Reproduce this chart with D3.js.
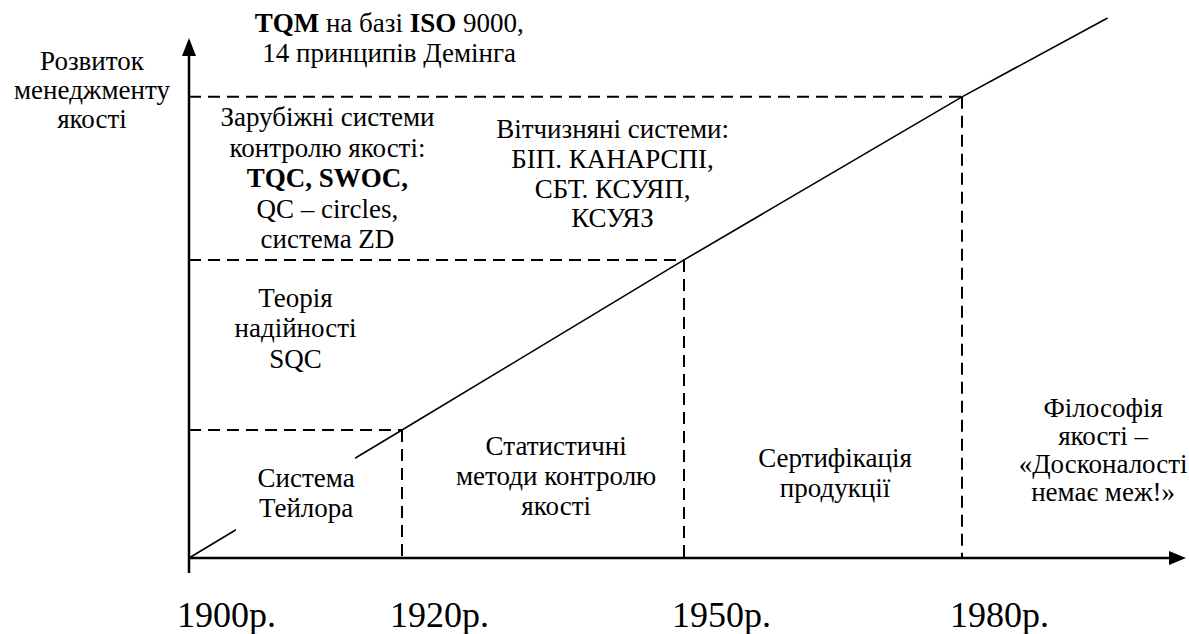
<!DOCTYPE html>
<html>
<head>
<meta charset="utf-8">
<script src="https://d3js.org/d3.v7.min.js"></script>
</head>
<body style="margin:0">
<script>
var width = 1189,
    height = 634,
    font = "Liberation Serif";

// boundaries between stages of quality management
var years = [1900, 1920, 1950, 1980];
var yearLabels = ["1900р.", "1920р.", "1950р.", "1980р."];
var levels = [0, 23.7, 55.2, 85.4];
var trendEnd = [1993, 100];

var axisTitle = ["Розвиток", "менеджменту", "якості"];
var periodLabels = [
  ["Система", "Тейлора"],
  ["Статистичні", "методи контролю", "якості"],
  ["Сертифікація", "продукції"],
  ["Філософія", "якості –", "«Досконалості", "немає меж!»"]
];
var stageLabels = [
  ["Теорія", "надійності", "SQC"],
  ["Зарубіжні системи", "контролю якості:", "**TQC, SWOC,**", "QC – circles,", "система ZD"],
  ["**TQM** на базі **ISO** 9000,", "14 принципів Демінга"]
];
var domesticLabel = ["Вітчизняні системи:", "БІП. КАНАРСПІ,", "СБТ. КСУЯП,", "КСУЯЗ"];

var x = d3.scaleLinear()
    .domain([1900, 1920, 1950, 1980, 2000])
    .range([189, 402, 684, 962, 1186]);

var y = d3.scaleLinear()
    .domain([0, 100])
    .range([558, 18]);

// development level along the diagonal, piecewise through the stage corners
var trend = d3.scaleLinear()
    .domain(years.concat(trendEnd[0]))
    .range(levels.concat(trendEnd[1]));

var svg = d3.select("body").append("svg")
    .attr("width", width)
    .attr("height", height);

// dashed guides from each corner to the axes
var corners = years.slice(1).map(function(d, i) { return [d, levels[i + 1]]; });

svg.selectAll(".hguide")
    .data(corners)
    .enter().append("line")
    .attr("x1", x(1900))
    .attr("x2", function(d) { return x(d[0]); })
    .attr("y1", function(d) { return y(d[1]); })
    .attr("y2", function(d) { return y(d[1]); });

svg.selectAll(".vguide")
    .data(corners)
    .enter().append("line")
    .attr("x1", function(d) { return x(d[0]); })
    .attr("x2", function(d) { return x(d[0]); })
    .attr("y1", function(d) { return y(d[1]); })
    .attr("y2", y(0));

svg.selectAll("line")
    .attr("stroke", "#000")
    .attr("stroke-width", 2)
    .attr("stroke-dasharray", "12,7");

// diagonal trend
var pts = years.map(function(d, i) { return [d, levels[i]]; }).concat([trendEnd]);
svg.append("path")
    .attr("d", d3.line()
        .x(function(d) { return x(d[0]); })
        .y(function(d) { return y(d[1]); })(pts))
    .attr("fill", "none")
    .attr("stroke", "#000")
    .attr("stroke-width", 1.6);

// gap in the diagonal behind the first period label
var g0 = 1904.4, g1 = 1915.6;
svg.append("rect")
    .attr("x", x(g0))
    .attr("y", y(trend(g1)) - 2)
    .attr("width", x(g1) - x(g0))
    .attr("height", y(trend(g0)) - y(trend(g1)) + 4)
    .attr("fill", "#fff");

// axes with arrowheads
svg.append("line")
    .attr("x1", x(1900)).attr("x2", x(1900))
    .attr("y1", y(0) + 15).attr("y2", y(100) + 30)
    .attr("stroke", "#000").attr("stroke-width", 2.5);
svg.append("path")
    .attr("d", "M" + [x(1900), y(100) + 20] + "L" + [x(1900) - 7, y(100) + 38] +
               "L" + [x(1900) + 7, y(100) + 38] + "Z")
    .attr("fill", "#000");

svg.append("line")
    .attr("x1", x(1900)).attr("x2", x(2000) - 10)
    .attr("y1", y(0)).attr("y2", y(0))
    .attr("stroke", "#000").attr("stroke-width", 2.5);
svg.append("path")
    .attr("d", "M" + [x(2000), y(0)] + "L" + [x(2000) - 17, y(0) - 7] +
               "L" + [x(2000) - 17, y(0) + 7] + "Z")
    .attr("fill", "#000");

// year labels
svg.selectAll(".year")
    .data(years)
    .enter().append("text")
    .attr("class", "year")
    .attr("x", function(d) { return x(d) - 12; })
    .attr("y", 627)
    .attr("font-family", font)
    .attr("font-size", 36)
    .text(function(d, i) { return yearLabels[i]; });

// multi-line text block centred on (cx, cy)
function block(lines, cx, cy, lh) {
  var t = svg.append("text")
      .attr("text-anchor", "middle")
      .attr("font-family", font)
      .attr("font-size", 27);
  var top = cy - (lines.length - 1) * lh / 2;
  lines.forEach(function(line, i) {
    var row = t.append("tspan")
        .attr("x", cx)
        .attr("y", top + i * lh);
    line.split("**").forEach(function(part, j) {
      if (!part) return;
      var s = row.append("tspan").text(part);
      if (j % 2) s.attr("font-weight", "bold");
    });
  });
}

block(axisTitle, x(1900) - 97, y(85), 29);

var periodPos = [[1911, 10.4], [1936.4, 13.5], [1966.3, 14.1], [1992.6, 18.4]];
periodLabels.forEach(function(lines, i) {
  block(lines, x(periodPos[i][0]), y(periodPos[i][1]), i === 3 ? 28 : 30);
});

var stagePos = [[1910, 40.9], [1913, 68.7], [1918.8, 94.6]];
stageLabels.forEach(function(lines, i) {
  block(lines, x(stagePos[i][0]), y(stagePos[i][1]), 30.5);
});

block(domesticLabel, x(1942.4), y(69.5), 29.7);
</script>
</body>
</html>
